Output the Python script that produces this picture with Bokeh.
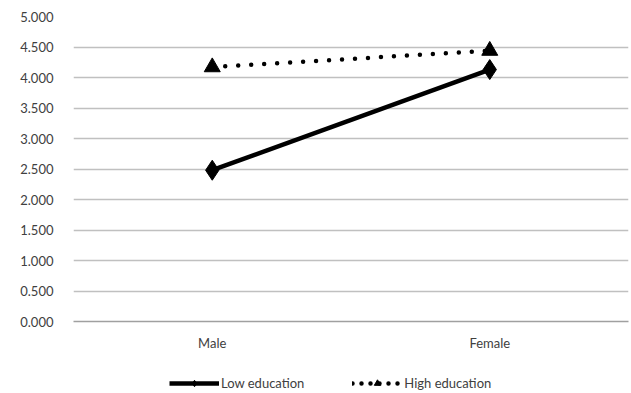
from bokeh.plotting import figure
from bokeh.layouts import column
from bokeh.models import FactorRange, Range1d, NumeralTickFormatter, Legend, LegendItem, FixedTicker
from bokeh.embed import file_html
from bokeh.resources import INLINE

categories = ["Male", "Female"]
low_education = [2.48, 4.13]
high_education = [4.17, 4.44]
y_ticks = [0, 0.5, 1, 1.5, 2, 2.5, 3, 3.5, 4, 4.5, 5]
series_names = ["Low education", "High education"]

FONT = "Lato"
TXT = "#404040"

p = figure(width=631, height=353, x_range=FactorRange(*categories, range_padding=0),
           y_range=Range1d(0, 5), output_backend="svg", toolbar_location=None,
           min_border_left=73, min_border_right=3, min_border_top=16, min_border_bottom=31)
p.outline_line_color = None
p.xgrid.grid_line_color = None
p.ygrid.grid_line_color = "#c0c0c0"
p.ygrid.grid_line_width = 1.3
p.yaxis.ticker = FixedTicker(ticks=y_ticks)
p.yaxis.formatter = NumeralTickFormatter(format="0.000")
p.yaxis.axis_line_color = None
p.yaxis.major_tick_line_color = None
p.yaxis.minor_tick_line_color = None
p.yaxis.major_label_text_font = FONT
p.yaxis.major_label_text_font_size = "13px"
p.yaxis.major_label_text_color = TXT
p.yaxis.major_label_standoff = 14
p.xaxis.axis_line_color = "#a0a0a0"
p.xaxis.axis_line_width = 1.5
p.xaxis.major_tick_line_color = None
p.xaxis.minor_tick_line_color = None
p.xaxis.major_label_text_font = FONT
p.xaxis.major_label_text_font_size = "13px"
p.xaxis.major_label_text_color = TXT
p.xaxis.major_label_standoff = 7

p.line(categories, low_education, line_color="black", line_width=4.5)
p.scatter(categories, low_education, marker="diamond", size=20, color="black")
p.line(categories, high_education, line_color="black", line_width=4.5,
       line_dash="0 13", line_cap="round")
p.scatter(categories, high_education, marker="triangle", size=16, color="black")

# legend strip below the chart; its series sit outside its (clipped) frame so only the legend shows
lg = figure(width=631, height=40, x_range=FactorRange(*categories, range_padding=0),
            y_range=Range1d(10, 11),
            output_backend="svg", toolbar_location=None, x_axis_type=None, y_axis_type=None,
            min_border_left=0, min_border_right=0, min_border_top=0, min_border_bottom=0)
lg.outline_line_color = None
lg.xgrid.visible = False
lg.ygrid.visible = False
a1 = lg.line(categories, low_education, line_color="black", line_width=4.5)
b1 = lg.scatter(categories, low_education, marker="diamond", size=14, color="black")
a2 = lg.line(categories, high_education, line_color="black", line_width=4.5,
             line_dash="0 9", line_cap="round")
b2 = lg.scatter(categories, high_education, marker="triangle", size=12, color="black")

legend = Legend(items=[LegendItem(label=series_names[0], renderers=[a1, b1]),
                       LegendItem(label=series_names[1], renderers=[a2, b2])],
                orientation="horizontal", location=(96, 2),
                label_text_font=FONT, label_text_font_size="13px", label_text_color=TXT,
                glyph_width=50, glyph_height=16, label_height=16, label_standoff=2, spacing=48,
                border_line_color=None, background_fill_alpha=0, padding=2, margin=0)
lg.add_layout(legend)

layout = column(p, lg, spacing=0)
open("out.html", "w").write(file_html(layout, INLINE))
